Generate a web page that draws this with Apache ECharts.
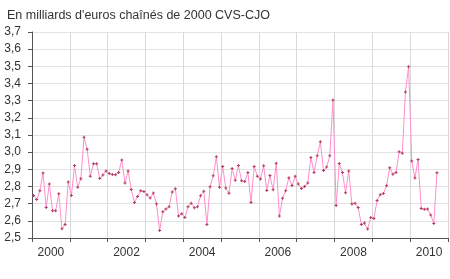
<!DOCTYPE html>
<html><head><meta charset="utf-8">
<script src="https://cdn.jsdelivr.net/npm/echarts@6/dist/echarts.min.js"></script>
<style>html,body{margin:0;padding:0;background:#fff}#c{width:450px;height:279px}</style>
</head><body><div id="c"></div>
<script>
var title = "En milliards d'euros chaînés de 2000 CVS-CJO";
var years = ['2000','2001','2002','2003','2004','2005','2006','2007','2008','2009','2010'];
var startYear = 2000;
// monthly values from Jan 2000
var values = [
2.748,2.725,2.775,2.878,2.678,2.814,2.659,2.659,2.758,2.554,2.578,2.826,
2.748,2.922,2.795,2.845,3.087,3.017,2.860,2.932,2.932,2.846,2.867,2.891,
2.876,2.870,2.868,2.882,2.955,2.820,2.890,2.783,2.707,2.742,2.775,2.771,
2.752,2.733,2.762,2.698,2.543,2.653,2.669,2.682,2.768,2.787,2.628,2.641,
2.620,2.682,2.703,2.676,2.682,2.746,2.773,2.579,2.798,2.862,2.973,2.795,
2.917,2.791,2.760,2.905,2.837,2.922,2.833,2.829,2.882,2.707,2.917,2.860,
2.843,2.921,2.777,2.864,2.781,2.936,2.628,2.731,2.775,2.851,2.806,2.859,
2.814,2.789,2.800,2.820,2.969,2.882,2.979,3.060,2.893,2.913,2.979,3.304,
2.690,2.934,2.882,2.764,2.891,2.698,2.702,2.678,2.579,2.587,2.552,2.620,
2.614,2.719,2.752,2.759,2.804,2.909,2.872,2.882,3.002,2.994,3.351,3.498,
2.948,2.849,2.957,2.672,2.667,2.669,2.634,2.585,2.880
];
var yMin = 2.5, yMax = 3.7, yStep = 0.1;

var seriesData = values.map(function(v, i){ return [startYear + (i + 0.5) / 12, v]; });
var font = 'Liberation Sans, Arial, sans-serif';
var chart = echarts.init(document.getElementById('c'), null, {renderer:'canvas'});
chart.setOption({
  animation:false,
  backgroundColor:'#ffffff',
  title:{text:title, left:2, top:4, textStyle:{fontSize:12.5, fontWeight:'normal', color:'#333', fontFamily:font}},
  grid:{left:32, right:2, top:32, bottom:41, containLabel:false},
  xAxis:[{
    type:'category', data:years, boundaryGap:true,
    axisLine:{show:true, lineStyle:{color:'#555'}},
    axisTick:{show:true, length:4, alignWithLabel:false, interval:0, lineStyle:{color:'#555'}},
    axisLabel:{interval:1, fontSize:12, color:'#333', fontFamily:font, margin:9},
    splitLine:{show:true, interval:0, lineStyle:{color:'#d9d9d9'}}
  },{
    type:'value', min:startYear, max:startYear + years.length, show:false
  }],
  yAxis:{
    type:'value', min:yMin, max:yMax, interval:yStep,
    axisLine:{show:true, lineStyle:{color:'#555'}},
    axisTick:{show:true, length:4, lineStyle:{color:'#555'}},
    axisLabel:{fontSize:12, color:'#333', fontFamily:font, margin:11,
      formatter:function(v){ return v.toFixed(1).replace('.', ','); }},
    splitLine:{show:true, lineStyle:{color:'#e2e2e2'}}
  },
  series:[{
    type:'line', xAxisIndex:1, data:seriesData,
    lineStyle:{color:'#ff8fcf', width:1},
    symbol:'path://M1,0H2V1H3V2H2V3H1V2H0V1H1Z', symbolSize:3, showSymbol:true,
    itemStyle:{color:'#b0405e'}
  }]
});
</script></body></html>
